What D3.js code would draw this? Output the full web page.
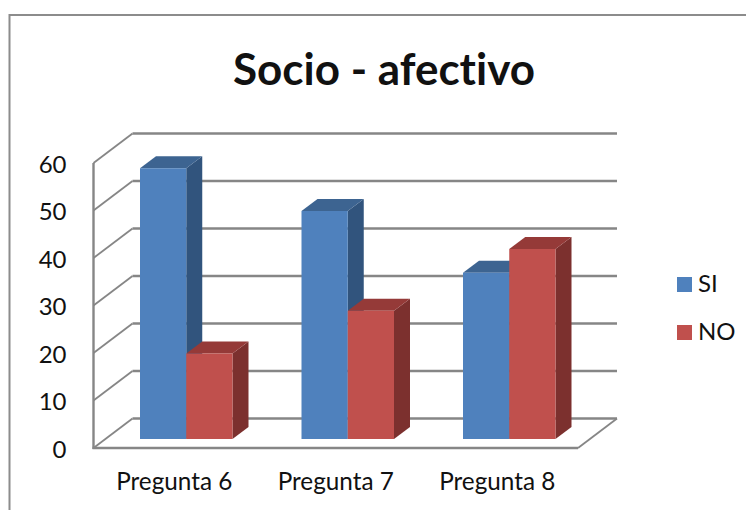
<!DOCTYPE html>
<html>
<head>
<meta charset="utf-8">
<script src="https://cdn.jsdelivr.net/npm/d3@7"></script>
<style>
  html, body { margin: 0; padding: 0; background: #fff; }
  svg { display: block; }
  text { font-family: Lato, "Open Sans", sans-serif; fill: #111; font-variant-ligatures: none; }
</style>
</head>
<body>
<div id="chart"></div>
<script>
const categories = ['Pregunta 6', 'Pregunta 7', 'Pregunta 8'];
const seriesNames = ['SI', 'NO'];
const siValues = [57, 48, 35];
const noValues = [18, 27, 40];
const yTicks = [0, 10, 20, 30, 40, 50, 60];
const chartTitle = 'Socio - afectivo';

const colors = {
  SI: { front: '#4f81bd', top: '#3d6491', side: '#31547d' },
  NO: { front: '#c0504d', top: '#953a38', side: '#7c302e' }
};
const gridColor = '#868686';

const width = 746, height = 510;
const left = 93.5, right = 578, y0 = 448, y60 = 163;
const wallDx = 39, wallDy = -29.5; // depth of the floor / side wall
const barDx = 16, barDy = -12;     // depth of one bar

const svg = d3.select('#chart').append('svg')
  .attr('width', width)
  .attr('height', height);

// chart frame, right and bottom run off the page
svg.append('path')
  .attr('d', `M9.5,${height + 5}V15H${width + 5}`)
  .attr('fill', 'none')
  .attr('stroke', '#8c8c8c')
  .attr('stroke-width', 2);

svg.append('text')
  .attr('x', 384)
  .attr('y', 85)
  .attr('text-anchor', 'middle')
  .attr('font-size', 44)
  .attr('font-weight', 700)
  .text(chartTitle);

const xScale = d3.scaleBand().domain(categories).range([left, right]);
const yScale = d3.scaleLinear().domain([0, 60]).range([y0, y60]);
const seriesScale = d3.scaleBand().domain(seriesNames).range([46.5, 139]);

// walls and grid
const grid = svg.append('g')
  .attr('fill', 'none')
  .attr('stroke', gridColor)
  .attr('stroke-width', 2.4);

yTicks.forEach(t => {
  const y = yScale(t);
  grid.append('line')
    .attr('x1', left).attr('y1', y)
    .attr('x2', left + wallDx).attr('y2', y + wallDy)
    .attr('stroke-width', 1.8);
  grid.append('line')
    .attr('x1', left + wallDx).attr('y1', y + wallDy)
    .attr('x2', right + wallDx).attr('y2', y + wallDy);
});

grid.append('line')
  .attr('x1', left).attr('y1', y60)
  .attr('x2', left).attr('y2', y0 + 1);
grid.append('line')
  .attr('x1', left - 1).attr('y1', y0)
  .attr('x2', right).attr('y2', y0);
grid.append('line')
  .attr('x1', right).attr('y1', y0)
  .attr('x2', right + wallDx).attr('y2', y0 + wallDy)
  .attr('stroke-width', 1.8);

// bars, drawn as front + top + side faces
const base = y0 - 9;
const barData = [];
categories.forEach((c, i) => {
  barData.push({ cat: c, name: 'SI', value: siValues[i] });
  barData.push({ cat: c, name: 'NO', value: noValues[i] });
});

const bars = svg.append('g').selectAll('g')
  .data(barData)
  .join('g')
  .attr('transform', d => `translate(${xScale(d.cat) + seriesScale(d.name)},0)`);

bars.each(function (d) {
  const g = d3.select(this);
  const w = seriesScale.bandwidth();
  const top = base - (y0 - yScale(d.value));
  const c = colors[d.name];
  g.append('path')
    .attr('d', `M${w},${top}l${barDx},${barDy}V${base + barDy}L${w},${base}Z`)
    .attr('fill', c.side);
  g.append('path')
    .attr('d', `M0,${top}l${barDx},${barDy}H${w + barDx}L${w},${top}Z`)
    .attr('fill', c.top);
  g.append('rect')
    .attr('x', 0)
    .attr('y', top)
    .attr('width', w)
    .attr('height', base - top)
    .attr('fill', c.front);
});

// value labels
svg.append('g').selectAll('text')
  .data(yTicks)
  .join('text')
  .attr('x', 66.5)
  .attr('y', d => yScale(d) + 9.5)
  .attr('text-anchor', 'end')
  .attr('font-size', 24)
  .text(d => d);

svg.append('g').selectAll('text')
  .data(categories)
  .join('text')
  .attr('x', d => xScale(d) + xScale.bandwidth() / 2)
  .attr('y', 490)
  .attr('text-anchor', 'middle')
  .attr('font-size', 24.3)
  .text(d => d);

// legend
const legend = svg.append('g').selectAll('g')
  .data(seriesNames)
  .join('g')
  .attr('transform', (d, i) => `translate(677,${277 + i * 48})`);

legend.append('rect')
  .attr('width', 15)
  .attr('height', 15)
  .attr('fill', d => colors[d].front);

legend.append('text')
  .attr('x', 21)
  .attr('y', 15)
  .attr('font-size', 24)
  .text(d => d);
</script>
</body>
</html>
